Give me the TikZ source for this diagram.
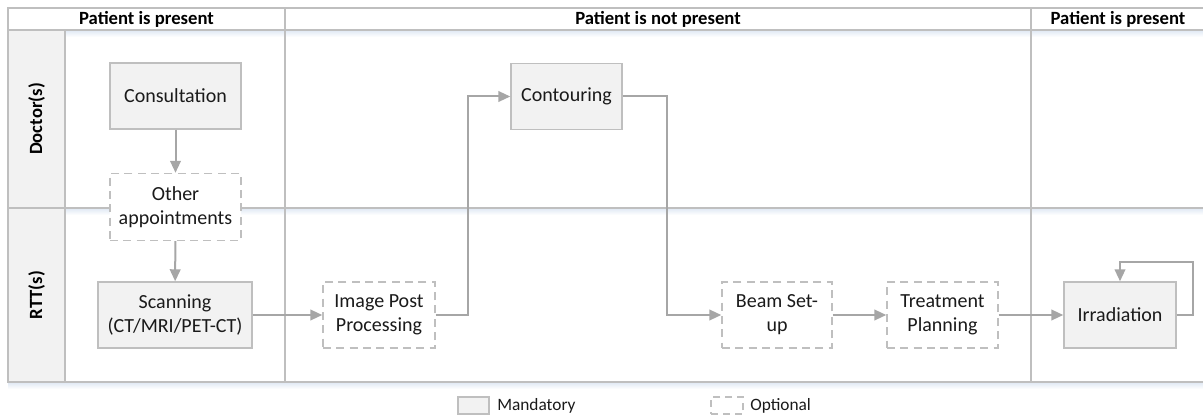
\documentclass[tikz,border=0pt]{standalone}
\usepackage{fontspec}
\setmainfont{Carlito}
\usetikzlibrary{arrows.meta}
\newlength\unitpx
\setlength\unitpx{0.75pt}
\definecolor{lineg}{HTML}{BFBFBF}
\definecolor{arrg}{HTML}{A6A6A6}
\definecolor{boxf}{HTML}{F2F2F2}
\definecolor{shad}{HTML}{E3EBF5}
\definecolor{txt}{HTML}{1A1A1A}
\tikzset{
  frame/.style={draw=lineg, line width=1.5pt},
  mand/.style={draw=lineg, fill=boxf, line width=1.1pt, inner sep=0pt, align=center,
    text=txt, font=\fontsize{15}{18}\selectfont},
  opt/.style={draw=lineg, fill=white, line width=1.1pt, dash pattern=on 6pt off 4pt,
    inner sep=0pt, align=center, text=txt, font=\fontsize{15}{18}\selectfont},
  arr/.style={draw=arrg, line width=1.5pt, -{Triangle[length=9pt,width=8pt]}},
  hdr/.style={font=\bfseries\fontsize{14}{16}\selectfont, text=black},
  lanelbl/.style={font=\bfseries\fontsize{14}{16}\selectfont, rotate=90, text=black},
  legtxt/.style={font=\fontsize{13}{15}\selectfont, text=txt, anchor=west, inner sep=0pt}
}
\begin{document}
\begin{tikzpicture}[x=0.75pt,y=-0.75pt]
\useasboundingbox (0,0) rectangle (1203,417);
% shadows
\shade[top color=shad, bottom color=white] (8,31) rectangle (1203,37);
\shade[top color=shad, bottom color=white] (8,209) rectangle (1203,215);
\shade[top color=shad, bottom color=white] (8,383) rectangle (1203,389);
% lane label column
\fill[boxf] (8,30) rectangle (65,382);
% frame lines
\draw[frame] (1203,8) -- (8,8) -- (8,382) -- (1203,382);
\draw[frame] (8,30) -- (1203,30);
\draw[frame] (8,208) -- (1203,208);
\draw[frame] (65,30) -- (65,382);
\draw[frame] (285,8) -- (285,382);
\draw[frame] (1031,8) -- (1031,382);
% headers
\node[hdr] (h1) at (146.5,19) {Patient is present};
\node[hdr] (h2) at (658,19) {Patient is not present};
\node[hdr] (h3) at (1118,19) {Patient is present};
\node[lanelbl] (l1) at (36.5,119) {Doctor(s)};
\node[lanelbl] (l2) at (36.5,295) {RTT(s)};
% nodes
\node[mand, minimum width=131\unitpx, minimum height=66\unitpx] (cons) at (175.5,96) {Consultation};
\node[opt, minimum width=131\unitpx, minimum height=67\unitpx] (other) at (175.5,207) {Other\\appointments};
\node[mand, minimum width=154\unitpx, minimum height=66\unitpx] (scan) at (175,315) {Scanning\\(CT/MRI/PET-CT)};
\node[opt, minimum width=112\unitpx, minimum height=66\unitpx] (imgp) at (379,315) {Image Post\\Processing};
\node[mand, minimum width=111\unitpx, minimum height=66\unitpx] (cont) at (566.5,96.5) {Contouring};
\node[opt, minimum width=110\unitpx, minimum height=66\unitpx] (beam) at (777,315) {Beam Set-\\up};
\node[opt, minimum width=111\unitpx, minimum height=66\unitpx] (treat) at (942.5,315) {Treatment\\Planning};
\node[mand, minimum width=112\unitpx, minimum height=66\unitpx] (irr) at (1120,315) {Irradiation};
% connectors
\draw[arr] (cons) -- (other);
\draw[arr] (other) -- (scan);
\draw[arr] (scan) -- (imgp);
\draw[arr] (imgp.east) -- ++(32,0) |- (cont.west);
\draw[arr] (cont.east) -- ++(44,0) |- (beam.west);
\draw[arr] (beam) -- (treat);
\draw[arr] (treat) -- (irr);
\draw[arr] (irr.east) -- ++(16,0) -- ++(0,-53) -| (irr.north);
% legend
\node[mand, minimum width=31\unitpx, minimum height=17\unitpx] (legm) at (473.5,405.5) {};
\node[legtxt] (legmt) at (497,406) {Mandatory};
\node[opt, dash pattern=on 5pt off 4pt, minimum width=32\unitpx, minimum height=17\unitpx] (lego) at (727,405.5) {};
\node[legtxt] (legot) at (750,406) {Optional};
\end{tikzpicture}
\end{document}
